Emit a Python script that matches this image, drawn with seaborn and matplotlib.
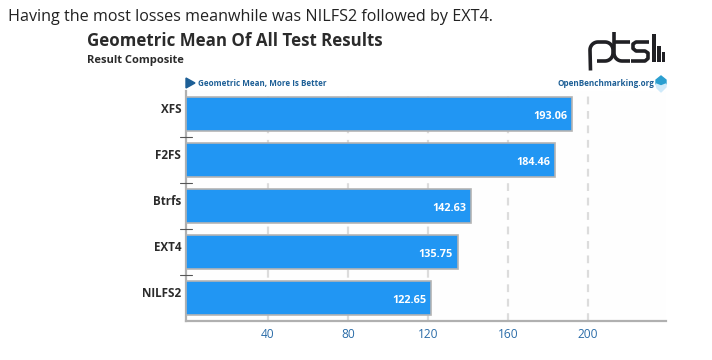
import matplotlib
matplotlib.use("Agg")
import matplotlib.pyplot as plt
import seaborn as sns
import pandas as pd
import numpy as np
from matplotlib.lines import Line2D
from matplotlib.patches import Polygon, Rectangle
from matplotlib.transforms import ScaledTranslation

filesystems = ["XFS", "F2FS", "Btrfs", "EXT4", "NILFS2"]
geo_means = [193.06, 184.46, 142.63, 135.75, 122.65]
tick_values = [40, 80, 120, 160, 200]

sns.set_theme(style="white")
plt.rcParams["font.family"] = ["Open Sans", "Noto Sans", "DejaVu Sans"]

W, H = 712, 360
fig = plt.figure(figsize=(W / 100, H / 100), dpi=100, facecolor="white")
ax = fig.add_axes([186 / W, 1 - 321 / H, 480 / W, 230 / H])
ax.set_facecolor("#fefefe")

df = pd.DataFrame({"fs": filesystems, "value": geo_means})
sns.barplot(data=df, y="fs", x="value", orient="y", color="#2196f3", saturation=1,
            width=0.74, edgecolor="#b4b4b4", linewidth=1.2, ax=ax, zorder=3)
ax.set_xlim(0, 240)
ax.set_ylim(4.5, -0.5)
ax.set_xlabel("")
ax.set_ylabel("")

# the source chart draws its gridlines one unit right of the value
grid_offset = 1
for t in tick_values:
    ax.axvline(t + grid_offset, color="#dcdcdc", lw=1.6, ls=(0, (3.5, 3)), zorder=1)
ax.set_xticks([t + grid_offset for t in tick_values], [str(t) for t in tick_values])
ax.tick_params(axis="x", length=0, pad=5, labelsize=8.6, labelcolor="#2a6ca8")
ax.tick_params(axis="y", length=0, pad=3.5, labelsize=8.4, labelcolor="#2b2b2b")
up = ScaledTranslation(0, 6.5 / 100, fig.dpi_scale_trans)
for lab in ax.get_yticklabels():
    lab.set_fontweight("bold")
    lab.set_transform(lab.get_transform() + up)

for s in ("top", "right"):
    ax.spines[s].set_visible(False)
for s in ("left", "bottom"):
    ax.spines[s].set_color("#b0b0b0")
    ax.spines[s].set_linewidth(1.6)

# separators between categories
for i in range(1, len(filesystems)):
    ax.add_line(Line2D([-6 / 480, 6 / 480], [i - 0.5, i - 0.5],
                       transform=ax.get_yaxis_transform(), color="#555555", lw=0.8,
                       clip_on=False, zorder=4))

for i, v in enumerate(geo_means):
    ax.annotate(f"{v:.2f}", (v, i), xytext=(-3.6, -1.6), textcoords="offset points",
                ha="right", va="center", color="white", fontsize=7.8, fontweight="bold", zorder=5)

def px(x, y):
    return x / W, 1 - y / H

def ftext(x, y, s, **kw):
    fig.text(*px(x, y), s, va="center", **kw)

ftext(8, 17, "Having the most losses meanwhile was NILFS2 followed by EXT4.",
      fontsize=11.65, color="#222222")
ftext(87, 41, "Geometric Mean Of All Test Results", fontsize=12.2, fontweight="bold", color="#2b2b2b")
ftext(87, 60.5, "Result Composite", fontsize=8.0, fontweight="bold", color="#2b2b2b")
ftext(198, 83.5, "Geometric Mean, More Is Better", fontsize=5.8, fontweight="bold", color="#1d5f96")
fig.text(*px(654, 83.5), "OpenBenchmarking.org", ha="right", va="center", fontsize=5.87,
         fontweight="bold", color="#1d5f96")

fig.add_artist(Polygon([px(186, 78), px(195, 83), px(186, 88)], closed=True,
                       transform=fig.transFigure, color="#1d5f96"))
fig.add_artist(Polygon([px(661, 76), px(666, 80), px(666, 84), px(661, 86), px(656, 84), px(656, 80)],
                       closed=True, transform=fig.transFigure, color="#2b9fd0"))
fig.add_artist(Polygon([px(656, 84), px(661, 86), px(666, 84), px(666, 87), px(661, 92), px(657, 88)],
                       closed=True, transform=fig.transFigure, color="#cfeafa"))

def stroke(xs, ys, lw=2.6):
    pts = [px(x, y) for x, y in zip(xs, ys)]
    fig.add_artist(Line2D([p[0] for p in pts], [p[1] for p in pts], transform=fig.transFigure,
                          color="#202024", lw=lw, solid_capstyle="butt", solid_joinstyle="round"))

def arc(cx, cy, r, a0, a1):
    a = np.radians(np.linspace(a0, a1, 12))
    return list(cx + r * np.cos(a)), list(cy + r * np.sin(a))

# logo: p
ax1, ay1 = arc(598, 50, 8, 180, 270)
ax2, ay2 = arc(605, 50, 8, 270, 360)
ax3, ay3 = arc(605, 53, 8, 0, 90)
stroke([590.5] + ax1 + ax2 + ax3 + [597], [70.5] + ay1 + ay2 + ay3 + [61])
# t
bx, by = arc(622, 53, 8, 180, 90)
stroke([614, 614] + bx + [630], [32, 53] + by + [61])
stroke([614, 630], [42, 42])
# s
stroke([649, 636, 633, 633, 636, 645, 648, 648, 645, 631],
       [42, 42, 44, 48.5, 51, 51, 53, 58.5, 61, 61])
for x0, y0, w in [(652, 34, 4), (657, 46, 3.5), (661.8, 52.5, 3.5)]:
    fig.add_artist(Rectangle(px(x0, 62), w / W, (62 - y0) / H, transform=fig.transFigure,
                             color="#202024", lw=0))

fig.savefig("out.png", dpi=100, facecolor="white")
